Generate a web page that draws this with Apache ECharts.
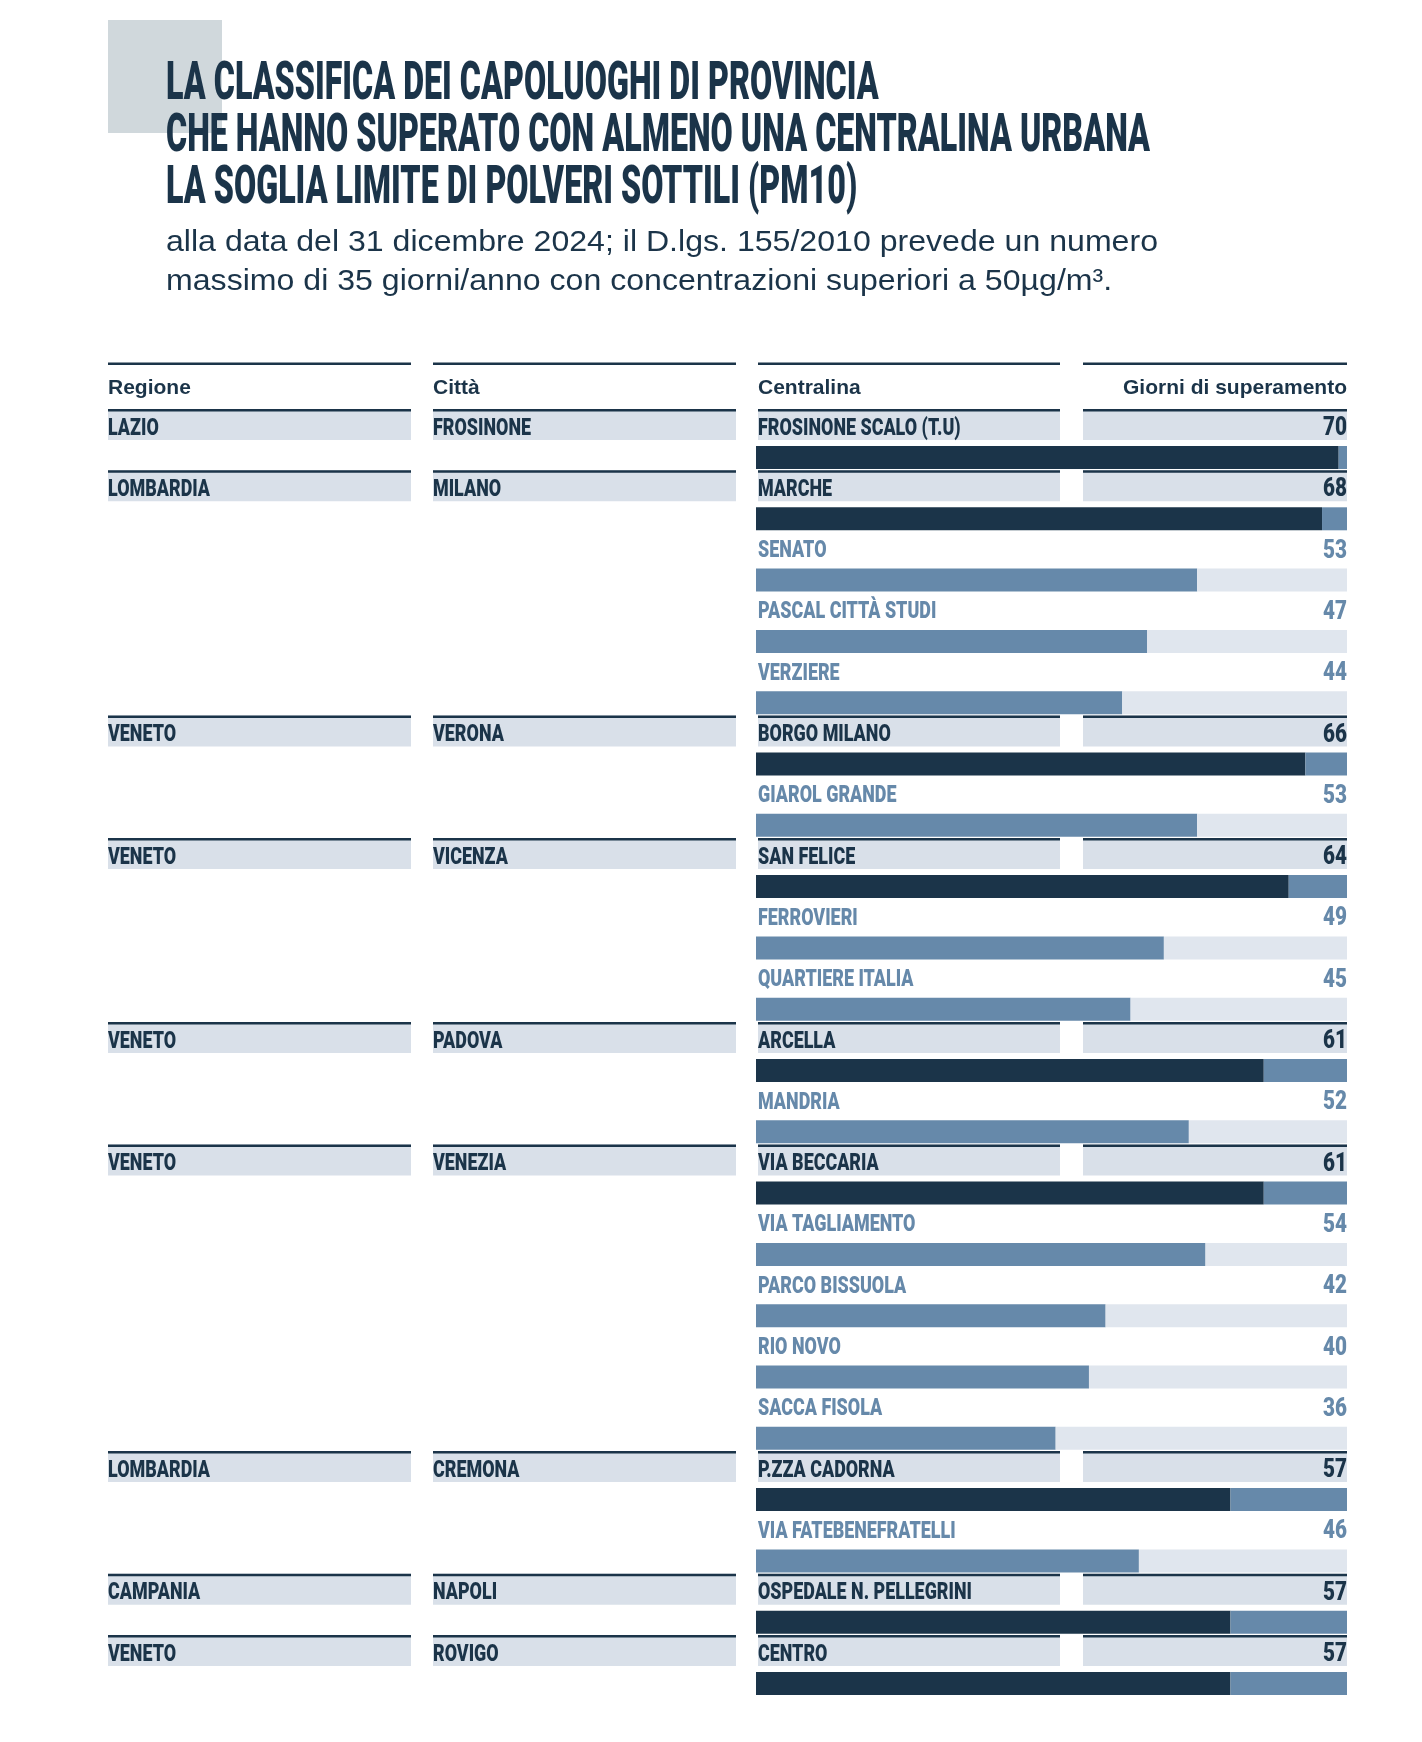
<!DOCTYPE html>
<html><head><meta charset="utf-8">
<script src="https://cdn.jsdelivr.net/npm/echarts@6/dist/echarts.min.js"></script>
<style>html,body{margin:0;padding:0;background:#fff}#c{width:1422px;height:1742px}</style>
</head><body><div id="c"></div><script>
// ---- data ----
const titleLines = [
  'LA CLASSIFICA DEI CAPOLUOGHI DI PROVINCIA',
  'CHE HANNO SUPERATO CON ALMENO UNA CENTRALINA URBANA',
  'LA SOGLIA LIMITE DI POLVERI SOTTILI (PM10)'
];
const subtitleLines = [
  'alla data del 31 dicembre 2024; il D.lgs. 155/2010 prevede un numero',
  'massimo di 35 giorni/anno con concentrazioni superiori a 50µg/m³.'
];
const headers = ['Regione', 'Città', 'Centralina', 'Giorni di superamento'];
const regions = ['LAZIO','LOMBARDIA','','','','VENETO','','VENETO','','','VENETO','','VENETO','','','','','LOMBARDIA','','CAMPANIA','VENETO'];
const cities = ['FROSINONE','MILANO','','','','VERONA','','VICENZA','','','PADOVA','','VENEZIA','','','','','CREMONA','','NAPOLI','ROVIGO'];
const stations = ['FROSINONE SCALO (T.U)','MARCHE','SENATO','PASCAL CITTÀ STUDI','VERZIERE','BORGO MILANO','GIAROL GRANDE','SAN FELICE','FERROVIERI','QUARTIERE ITALIA','ARCELLA','MANDRIA','VIA BECCARIA','VIA TAGLIAMENTO','PARCO BISSUOLA','RIO NOVO','SACCA FISOLA','P.ZZA CADORNA','VIA FATEBENEFRATELLI','OSPEDALE N. PELLEGRINI','CENTRO'];
const days = [70,68,53,47,44,66,53,64,49,45,61,52,61,54,42,40,36,57,46,57,57];
const XMAX = 71;

// ---- style / layout ----
const NAVY = '#1b3449', MID = '#6689aa', BAND = '#d9e0e9', TRACK = '#e0e6ee', SQUARE = '#d0d8dc';
const COLS = [[108, 411], [433, 736], [758, 1060], [1083, 1347]];
const PITCH = 61.3, FIRST_BAR_C = 457.5;
const mctx = document.createElement('canvas').getContext('2d');
const measure = (t, f) => { mctx.font = f; return mctx.measureText(t).width; };
const TITLE_FONT = '900 54px Roboto';
const LABEL_FONT = '900 24px Roboto';
const NUM_FONT = '900 26px Roboto';
const SUB_FONT = '30px "Liberation Sans"';
const HEAD_FONT = 'bold 21px "Liberation Sans"';
const sxTitle = 984 / measure(titleLines[1], TITLE_FONT);
const sxLabel = 98 / measure(cities[0], LABEL_FONT);
const sxNum = 24 / measure('70', NUM_FONT);
const sxSub = 992 / measure(subtitleLines[0], SUB_FONT);

function txt(text, x, y, align, color, font, sx) {
  return { type: 'text', x: x, y: y, scaleX: sx, silent: true,
    style: { text: text, font: font, fill: color, textAlign: align, textVerticalAlign: 'middle' } };
}

const graphics = [
  { type: 'rect', shape: { x: 108, y: 20, width: 114, height: 113 }, style: { fill: SQUARE }, z: 0 }
];
titleLines.forEach((t, k) => graphics.push(Object.assign(txt(t, 166, 85 + k * 52, 'left', NAVY, TITLE_FONT, sxTitle), { z: 5 })));
subtitleLines.forEach((t, k) => graphics.push(Object.assign(txt(t, 166, 243 + k * 39, 'left', NAVY, SUB_FONT, sxSub), { z: 5 })));
COLS.forEach((c, k) => {
  graphics.push({ type: 'rect', shape: { x: c[0], y: 362.5, width: c[1] - c[0], height: 2.5 }, style: { fill: NAVY }, silent: true });
  graphics.push(txt(headers[k], k === 3 ? c[1] : c[0], 388.5, k === 3 ? 'right' : 'left', NAVY, HEAD_FONT, 1));
});

const isPrimary = cities.map(c => c !== '');

const chart = echarts.init(document.getElementById('c'), null, { renderer: 'canvas' });
chart.setOption({
  animation: false,
  backgroundColor: '#ffffff',
  graphic: graphics,
  grid: { left: COLS[2][0] - 2, width: COLS[3][1] - COLS[2][0] + 2, top: FIRST_BAR_C - PITCH / 2, height: PITCH * stations.length },
  xAxis: { type: 'value', min: 0, max: XMAX, show: false },
  yAxis: { type: 'category', data: stations, inverse: true, show: false },
  series: [
    { type: 'bar', stack: 'g', barWidth: 23, silent: true,
      data: days.map((v, i) => ({ value: v, itemStyle: { color: isPrimary[i] ? NAVY : MID } })) },
    { type: 'bar', stack: 'g', barWidth: 23, silent: true,
      data: days.map((v, i) => ({ value: XMAX - v, itemStyle: { color: isPrimary[i] ? MID : TRACK } })) },
    { type: 'custom', clip: false, silent: true, z: 3,
      encode: { x: 0, y: 1 },
      data: days.map((v, i) => [v, i]),
      renderItem: function (params, api) {
        const i = params.dataIndex;
        const yc = api.coord([0, i])[1];
        const prim = isPrimary[i];
        const bandTop = yc - 48.5, ty = yc - 29;
        const ch = [];
        if (prim) {
          COLS.forEach(c => {
            ch.push({ type: 'rect', shape: { x: c[0], y: bandTop, width: c[1] - c[0], height: 31 }, style: { fill: BAND } });
            ch.push({ type: 'rect', shape: { x: c[0], y: bandTop, width: c[1] - c[0], height: 2.5 }, style: { fill: NAVY } });
          });
          ch.push(txt(regions[i], COLS[0][0], ty, 'left', NAVY, LABEL_FONT, sxLabel));
          ch.push(txt(cities[i], COLS[1][0], ty, 'left', NAVY, LABEL_FONT, sxLabel));
        }
        const col = prim ? NAVY : MID;
        ch.push(txt(stations[i], COLS[2][0], ty, 'left', col, LABEL_FONT, sxLabel));
        ch.push(txt(String(api.value(0)), COLS[3][1], ty, 'right', col, NUM_FONT, sxNum));
        return { type: 'group', children: ch };
      }
    }
  ]
});
</script></body></html>
